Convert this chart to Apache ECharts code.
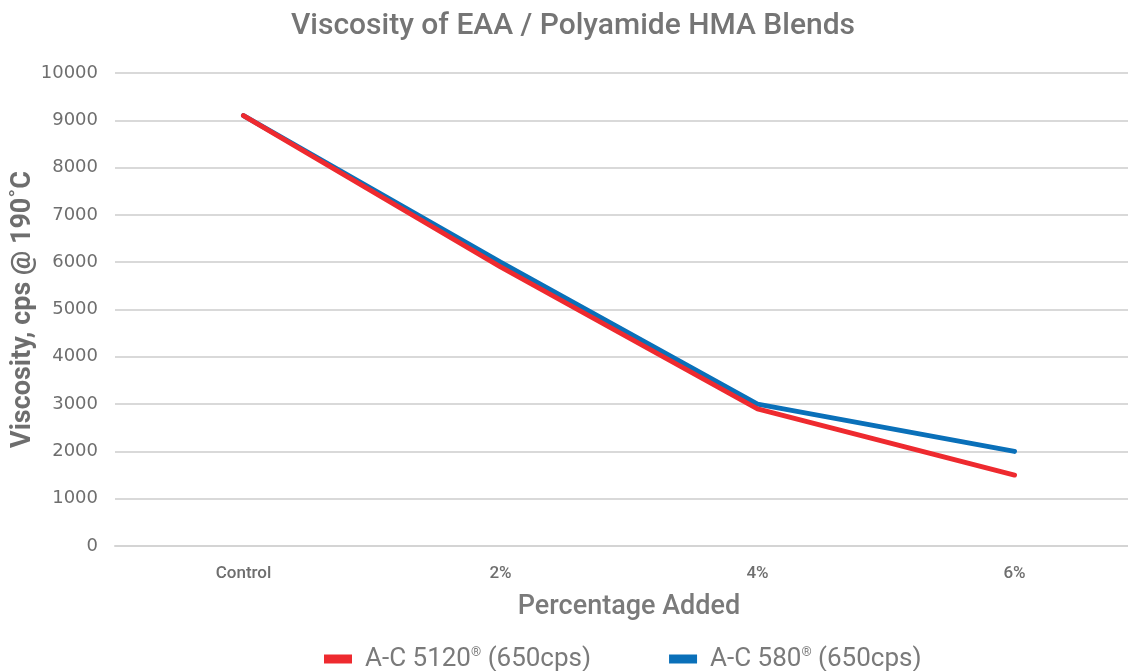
<!DOCTYPE html>
<html>
<head>
<meta charset="utf-8">
<script src="https://cdn.jsdelivr.net/npm/echarts@6/dist/echarts.min.js"></script>
<style>
  html, body { margin: 0; padding: 0; background: #fff; }
  #chart { width: 1128px; height: 671px; }
</style>
</head>
<body>
<div id="chart"></div>
<script>
// 数据
var categories = ['Control', '2%', '4%', '6%'];
var ac5120 = [9100, 5900, 2900, 1500];
var ac580 = [9100, 6000, 3000, 2000];
var yTicks = { min: 0, max: 10000, interval: 1000 };

var chart = echarts.init(document.getElementById('chart'));

var option = {
    animation: false,
    title: {
        text: 'Viscosity of EAA / Polyamide HMA Blends',
        left: 568,
        textAlign: 'center',
        top: 6,
        textStyle: {
            fontFamily: 'Roboto',
            fontSize: 30,
            fontWeight: 500,
            color: '#757575'
        }
    },
    grid: {
        left: 115,
        top: 73,
        width: 1028,
        height: 473,
        outerBoundsMode: 'none'
    },
    legend: {
        top: 641,
        left: 319,
        itemWidth: 28,
        itemHeight: 9,
        itemGap: 78,
        icon: 'rect',
        formatter: function (name) {
            return name.replace('®', '{sup|®}');
        },
        textStyle: {
            fontFamily: 'Roboto',
            fontSize: 26,
            color: '#7a7a7a',
            padding: [0, 0, 0, 8],
            rich: {
                sup: {
                    fontFamily: 'Roboto',
                    fontSize: 13,
                    color: '#7a7a7a',
                    verticalAlign: 'top',
                    padding: [0, 0, 10, 0]
                }
            }
        },
        data: ['A-C 5120® (650cps)', 'A-C 580® (650cps)']
    },
    xAxis: {
        type: 'category',
        data: categories,
        boundaryGap: true,
        name: 'Percentage Added',
        nameLocation: 'middle',
        nameGap: 48,
        nameTextStyle: {
            fontFamily: 'Roboto',
            fontSize: 27,
            fontWeight: 500,
            color: '#7a7a7a'
        },
        axisLine: { lineStyle: { color: '#d4d4d4', width: 2 } },
        axisTick: { show: false },
        axisLabel: {
            margin: 19,
            fontFamily: 'Roboto',
            fontSize: 17,
            fontWeight: 500,
            color: '#6e6e6e'
        }
    },
    yAxis: {
        type: 'value',
        min: yTicks.min,
        max: yTicks.max,
        interval: yTicks.interval,
        name: 'Viscosity, cps @ 190˚C',
        nameLocation: 'middle',
        nameGap: 78,
        nameMoveOverlap: false,
        nameTextStyle: {
            fontFamily: 'Roboto',
            fontSize: 27,
            fontWeight: 'bold',
            color: '#6e6e6e'
        },
        axisLine: { show: false },
        axisTick: { show: false },
        axisLabel: {
            margin: 17,
            fontFamily: 'DejaVu Sans',
            fontSize: 18,
            color: '#6e6e6e',
            formatter: function (v) { return String(v); }
        },
        splitLine: { lineStyle: { color: '#d9d9d9', width: 2 } }
    },
    series: [
        {
            name: 'A-C 580® (650cps)',
            type: 'line',
            data: ac580,
            showSymbol: false,
            symbol: 'none',
            z: 2,
            lineStyle: { color: '#0a70b9', width: 5, cap: 'round' },
            itemStyle: { color: '#0a70b9' }
        },
        {
            name: 'A-C 5120® (650cps)',
            type: 'line',
            data: ac5120,
            showSymbol: false,
            symbol: 'none',
            z: 3,
            lineStyle: { color: '#ee2a2f', width: 5, cap: 'round' },
            itemStyle: { color: '#ee2a2f' }
        }
    ]
};
chart.setOption(option);
</script>
</body>
</html>
